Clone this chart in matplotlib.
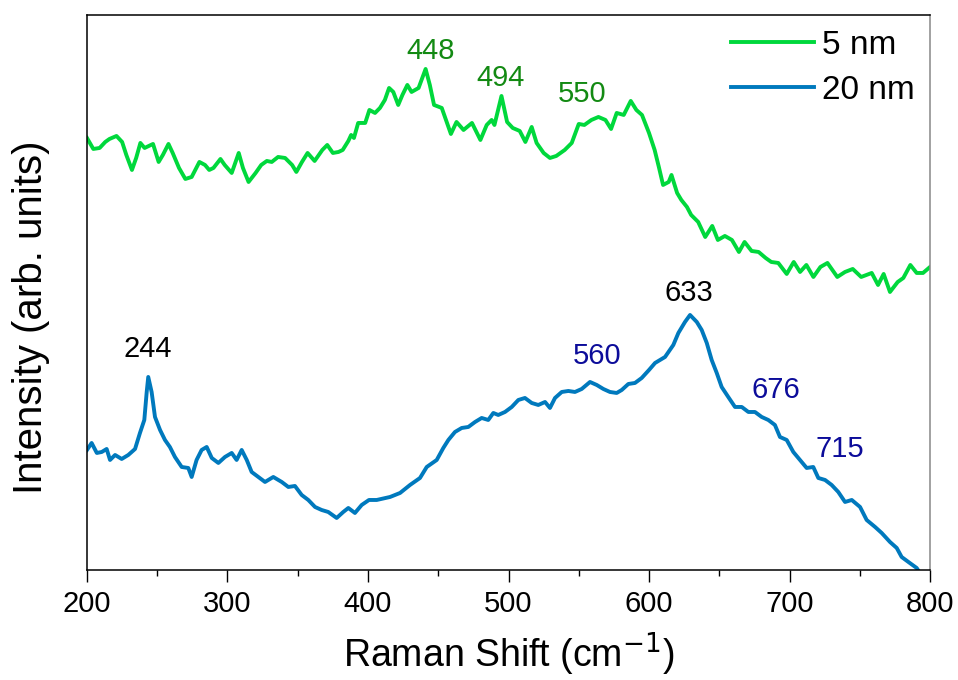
import matplotlib
matplotlib.use("Agg")
import matplotlib.pyplot as plt
from matplotlib.ticker import MultipleLocator

plt.rcParams["font.family"] = ["Liberation Sans", "DejaVu Sans"]

# Raman shift (cm-1) / intensity (arb. units)
shift_5nm = [200, 204.5, 209, 213, 216, 221, 225, 228, 232, 235, 238, 241, 244, 247,
             251, 254, 258, 261, 265.5, 270, 274.5, 280, 284, 287, 290, 295, 298, 303,
             308, 311, 315, 320, 324, 328, 331.5, 336, 341, 346, 349, 353, 357, 362,
             367.5, 371, 375, 379, 382, 386, 388, 390, 393, 398, 401, 405, 408.5, 412,
             415, 418, 421.5, 424.5, 428, 431, 436, 441, 444, 447, 452.5, 456, 459, 463,
             468, 474, 480, 484.5, 488, 490, 495, 499, 503, 508, 512, 516.5, 520, 525,
             529.5, 534, 540, 545, 550, 554, 559, 564, 569, 573, 577, 582, 587, 591, 595,
             600, 604, 607, 610, 614, 616, 620, 623, 627, 630, 635, 640, 645, 649, 654,
             659, 664, 668, 673, 678, 683, 687, 692, 698, 703, 707.5, 712, 717, 722, 727,
             734, 739.5, 745, 751, 758.5, 763, 767, 771.5, 777, 781, 786, 790.5, 795, 800]
int_5nm = [432, 421, 422, 428, 431, 434, 428, 415, 400, 412, 427, 422, 424, 426,
           408, 415, 426, 417, 402, 391, 393, 408, 405, 400, 402, 411, 405, 397,
           417, 402, 388, 397, 405, 409, 408, 413, 412, 405, 398, 408, 417, 409,
           420, 425, 417, 418, 420, 429, 435, 432, 447, 447, 460, 457, 462, 470,
           482, 478, 465, 475, 485, 478, 482, 501, 485, 465, 462, 448, 436, 448,
           440, 447, 430, 445, 450, 445, 474, 448, 442, 439, 428, 443, 427, 417,
           412, 414, 420, 427, 446, 445, 450, 453, 450, 441, 457, 455, 469, 460, 455,
           437, 420, 403, 385, 388, 395, 377, 370, 363, 355, 348, 333, 344, 330, 334,
           330, 318, 328, 319, 318, 312, 308, 307, 296, 308, 298, 305, 293, 303, 307,
           293, 298, 301, 293, 297, 285, 296, 278, 288, 292, 305, 297, 297, 303]

shift_20nm = [200, 203.3, 207, 210.5, 214, 216.4, 220, 224.7, 229.4, 234.2, 237.7, 240.8,
              242.5, 243.6, 246, 248.4, 252, 255.5, 259, 262.6, 267.4, 272.1, 274.5, 278,
              281.6, 285.2, 288.8, 293.5, 298.2, 303, 306.5, 310.1, 313.7, 317.2, 321.9,
              326.7, 332.6, 338.6, 343.3, 348, 352.8, 357.5, 362.3, 367, 371.7, 377.7,
              382.4, 386, 390.7, 395.5, 400.7, 406.2, 415.7, 422.8, 429.9, 437, 441.8,
              448.9, 453.6, 457.2, 461.9, 466.7, 471.4, 476.2, 480.9, 485.6, 489.2, 492.7,
              497.5, 502.3, 507, 511.7, 516.5, 521.2, 526, 529.5, 533.1, 537.9, 542.6,
              547.3, 552.1, 558, 562.8, 567.5, 572.2, 577, 580.6, 585.3, 590, 594.8, 600,
              604.3, 611.4, 617.3, 620.9, 625.6, 629.2, 634, 637.5, 641.1, 644.6, 648.2,
              651.7, 656.4, 661.2, 666, 670.7, 675.4, 680.2, 684.9, 689.6, 693.2, 698,
              702.7, 707.5, 712.2, 716.9, 720.5, 725.3, 730, 734.7, 739.5, 744.3, 750.2,
              754.9, 760.9, 765.6, 771.5, 776.3, 779.8, 784.6, 790.5, 795]
int_20nm = [120, 127, 117, 118, 121, 110, 115, 111, 115, 121, 137, 150,
            178, 193, 178, 153, 140, 130, 123, 113, 103, 102, 93, 110,
            120, 123, 112, 107, 113, 117, 110, 120, 110, 98, 93,
            88, 93, 88, 83, 84, 75, 70, 63, 60, 58, 52,
            58, 62, 57, 65, 70, 70, 73, 77, 85, 92, 103,
            110, 122, 130, 138, 142, 143, 148, 152, 150, 157, 155,
            158, 163, 170, 172, 167, 165, 168, 162, 172, 178, 179,
            178, 181, 188, 185, 181, 178, 177, 180, 186, 187, 192, 200,
            207, 213, 225, 237, 248, 255, 248, 240, 227, 210, 197,
            183, 173, 163, 163, 158, 158, 153, 150, 145, 133, 130,
            118, 110, 102, 103, 92, 90, 85, 78, 68, 70, 63,
            50, 43, 37, 28, 22, 13, 8, 2, -8]

# peak labels: (text, x, y, colour)
peak_text = ["448", "494", "550", "244", "633", "560", "676", "715"]
peak_x = [444.8, 494.7, 552.3, 243.4, 628.5, 563, 690.4, 736]
peak_y = [519, 492, 476, 221, 277, 214, 180, 121]
peak_col = ["#138a13", "#138a13", "#138a13", "black", "black",
            "#0c0c9a", "#0c0c9a", "#0c0c9a"]

GREEN = "#00d83c"
BLUE = "#0079bd"

fig = plt.figure(figsize=(9.58, 6.8), dpi=100)
ax = fig.add_axes([0.0908, 0.1618, 0.88, 0.8162])

ax.plot(shift_5nm, int_5nm, color=GREEN, lw=2.8, label="5 nm")
ax.plot(shift_20nm, int_20nm, color=BLUE, lw=2.8, label="20 nm")

for t, x, y, c in zip(peak_text, peak_x, peak_y, peak_col):
    ax.text(x, y, t, color=c, fontsize=21, ha="center", va="center")

ax.set_xlim(200, 800)
ax.set_ylim(0, 555)
ax.xaxis.set_major_locator(MultipleLocator(100))
ax.xaxis.set_minor_locator(MultipleLocator(50))
ax.set_yticks([])
ax.tick_params(axis="x", which="major", direction="out", length=8.5, width=1.0,
               labelsize=21, pad=6)
ax.tick_params(axis="x", which="minor", direction="out", length=4, width=1.0)
for s in ax.spines.values():
    s.set_linewidth(1.1)
ax.spines["right"].set_color("#888888")

ax.set_xlabel("Raman Shift (cm$^{-1}$)", fontsize=27, labelpad=9)
ax.set_ylabel("Intensity (arb. units)", fontsize=29)
ax.yaxis.set_label_coords(-0.044, 0.455)

ax.legend(loc="upper right", frameon=False, fontsize=24, handlelength=2.5,
          handletextpad=0.25, labelspacing=0.41, borderpad=0.35,
          borderaxespad=0.1)

fig.savefig("out.png", dpi=100)
